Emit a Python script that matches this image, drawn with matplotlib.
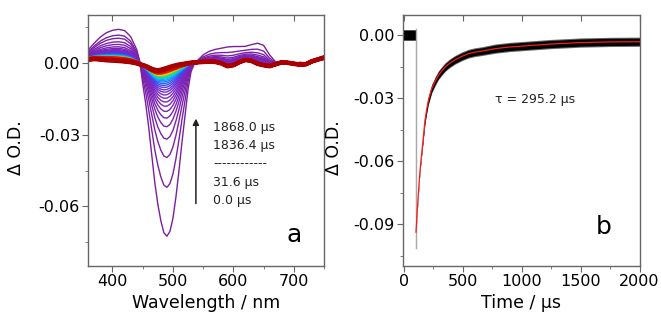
import numpy as np
import matplotlib
matplotlib.use("Agg")
import matplotlib.pyplot as plt
from matplotlib.colors import LinearSegmentedColormap
from matplotlib.ticker import MultipleLocator

plt.rcParams['font.family'] = ['DejaVu Sans']
plt.rcParams['axes.unicode_minus'] = False

# --- panel a: transient spectra ---
wl = [360, 370, 380, 390, 400, 410, 420, 430, 440, 445, 450, 455, 460, 465, 470,
      475, 480, 485, 490, 495, 500, 505, 510, 515, 520, 525, 530, 535, 540, 550,
      560, 570, 580, 590, 600, 610, 620, 630, 640, 650, 660, 670, 680, 690, 700,
      710, 720, 730, 740, 750]
# spectrum at 0.0 us
early = [0.0056, 0.0085, 0.0110, 0.0128, 0.0138, 0.0142, 0.0137, 0.0112, 0.0058, 0.0010,
         -0.0085, -0.0170, -0.0270, -0.0385, -0.0500, -0.0590, -0.0660, -0.0710, -0.0725, -0.0705,
         -0.0650, -0.0560, -0.0450, -0.0330, -0.0220, -0.0110, -0.0035, -0.0005, 0.0010, 0.0035,
         0.0050, 0.0058, 0.0063, 0.0068, 0.0070, 0.0070, 0.0071, 0.0078, 0.0084, 0.0075,
         0.0035, 0.0005, 0.0000, -0.0003, 0.0000, 0.0004, 0.0002, 0.0005, 0.0010, 0.0015]
# spectrum at 1868.0 us
late = [0.0015, 0.0018, 0.0016, 0.0013, 0.0012, 0.0010, 0.0008, 0.0005, 0.0000, -0.0004,
        -0.0008, -0.0012, -0.0018, -0.0024, -0.0028, -0.0030, -0.0028, -0.0024, -0.0020, -0.0016,
        -0.0012, -0.0009, -0.0006, -0.0004, -0.0002, 0.0000, 0.0002, 0.0003, 0.0004, 0.0006,
        0.0007, 0.0006, 0.0000, -0.0012, -0.0008, 0.0005, 0.0014, 0.0010, -0.0002, -0.0008,
        -0.0012, -0.0004, 0.0004, 0.0002, -0.0002, -0.0006, -0.0004, 0.0008, 0.0016, 0.0024]
# value of each spectrum at 490 nm (bleach) and 410 nm (absorption)
dip490 = [-0.0725, -0.0520, -0.0395, -0.0318, -0.0266, -0.0230, -0.0202, -0.0180, -0.0162, -0.0146,
          -0.0132, -0.0120, -0.0110, -0.0100, -0.0091, -0.0083, -0.0076, -0.0070, -0.0065, -0.0060,
          -0.0056, -0.0052, -0.0049, -0.0046, -0.0043, -0.0041, -0.0039, -0.0037, -0.0035, -0.0033,
          -0.0031, -0.0030, -0.0029, -0.0028, -0.0027, -0.0026, -0.0025, -0.0024, -0.0024, -0.0023,
          -0.0023, -0.0022, -0.0022, -0.0021, -0.0021, -0.0021, -0.0020, -0.0020]
peak410 = [0.0142, 0.0118, 0.0105, 0.0090, 0.0079, 0.0069, 0.0062, 0.0057, 0.0053, 0.0050,
           0.0047, 0.0045, 0.0043, 0.0041, 0.0039, 0.0037, 0.0035, 0.0033, 0.0031, 0.0030,
           0.0029, 0.0028, 0.0027, 0.0026, 0.0025, 0.0024, 0.0023, 0.0022, 0.0021, 0.0020,
           0.0019, 0.0018, 0.0017, 0.0016, 0.0015, 0.0014, 0.0013, 0.0013, 0.0012, 0.0012,
           0.0011, 0.0011, 0.0011, 0.0010, 0.0010, 0.0010, 0.0010, 0.0010]

# --- panel b: kinetics at 490 nm ---
fit_t = [102, 110, 122, 135, 150, 165, 178, 192, 207, 235, 265, 292, 320, 349, 390,
         434, 490, 547, 600, 660, 774, 900, 1000, 1250, 1500, 1750, 2000]
fit_y = [-0.0937, -0.0860, -0.0754, -0.0650, -0.0563, -0.0480, -0.0405, -0.0355, -0.0310, -0.0254,
         -0.0218, -0.0190, -0.0170, -0.0151, -0.0132, -0.0116, -0.0100, -0.0087, -0.0080, -0.0075,
         -0.0063, -0.0055, -0.0051, -0.0041, -0.0034, -0.0031, -0.0030]
# noise half-width of the measured trace around the fit
noise_hw = [0.0003, 0.0004, 0.0005, 0.0006, 0.0008, 0.0010, 0.0012, 0.0014, 0.0015, 0.0016,
            0.0016, 0.0016, 0.0016, 0.0016, 0.0016, 0.0016, 0.0016, 0.0016, 0.0016, 0.0016,
            0.0017, 0.0017, 0.0017, 0.0017, 0.0017, 0.0017, 0.0017]
pre_t = [-6, 100]
pre_y = [0.0, 0.0]

fig = plt.figure(figsize=(6.61, 3.2), dpi=100)
ax1 = fig.add_axes([0.1336, 0.170, 0.3566, 0.783])
ax2 = fig.add_axes([0.6092, 0.170, 0.3583, 0.783])

wl_a = np.array(wl)
early_a = np.array(early)
late_a = np.array(late)
i490 = wl.index(490)
i410 = wl.index(410)
n = len(dip490)
cmap = LinearSegmentedColormap.from_list('rb', [
    (0.00, '#7b1fa2'), (0.22, '#7b28c8'), (0.30, '#3c46f0'), (0.36, '#1e90ff'),
    (0.41, '#00d2e6'), (0.46, '#3cdc3c'), (0.51, '#f0e600'), (0.56, '#ff8c00'),
    (0.62, '#f01400'), (1.00, '#a80000')])
for i in range(n):
    wb = (dip490[i] - late[i490]) / (early[i490] - late[i490])
    wa = (peak410[i] - late[i410]) / (early[i410] - late[i410])
    w = np.where(wl_a < 445, wa, wb)
    spec = late_a + w * (early_a - late_a)
    lw = 1.0 if i < 28 else (2.6 if i < n - 1 else 3.4)
    ax1.plot(wl_a, spec, color=cmap(i / (n - 1)), lw=lw)

ax1.annotate('', xy=(538, -0.0232), xytext=(538, -0.0588),
             arrowprops=dict(arrowstyle='-|>', color='#222222', lw=1.1,
                             mutation_scale=9, shrinkA=0, shrinkB=0))
for txt, yy in [('1868.0 μs', -0.0268), ('1836.4 μs', -0.0346), ('-' * 12, -0.0419),
                ('31.6 μs', -0.0500), ('0.0 μs', -0.0576)]:
    ax1.text(567, yy, txt, fontsize=9, va='center', ha='left', color='#222222')
ax1.text(700, -0.0719, 'a', fontsize=18, ha='center', va='center')

ax1.set_xlim(360, 750)
ax1.set_ylim(-0.0848, 0.0202)
ax1.xaxis.set_major_locator(MultipleLocator(100))
ax1.xaxis.set_minor_locator(MultipleLocator(50))
ax1.set_yticks([-0.06, -0.03, 0.0])
ax1.set_yticklabels(['-0.06', '-0.03', '0.00'])
ax1.yaxis.set_minor_locator(MultipleLocator(0.015))
ax1.set_xlabel('Wavelength / nm', fontsize=12.5, labelpad=4)
ax1.set_ylabel('Δ O.D.', fontsize=12.5)
ax1.yaxis.set_label_coords(-0.27, 0.47)

# panel b
ft = np.array(fit_t)
fy = np.array(fit_y)
hw = np.array(noise_hw)
ax2.fill_between(pre_t, np.array(pre_y) - 0.0028, np.array(pre_y) + 0.0028,
                 color='#555555', lw=0)
ax2.fill_between(pre_t, np.array(pre_y) - 0.0020, np.array(pre_y) + 0.0020,
                 color='black', lw=0)
ax2.plot([101, 101], [0.0030, -0.101], color='#a8a8a8', lw=1.0)
edge = 0.0005 * (hw > 0.001)
ax2.fill_between(ft, fy - hw - edge, fy + hw + edge, color='#666666', lw=0)
ax2.fill_between(ft, fy - hw, fy + hw, color='black', lw=0)
ax2.plot(ft, fy, color='#ff1a1a', lw=0.9)
ax2.text(1110, -0.0303, 'τ = 295.2 μs', fontsize=9, ha='center', va='center', color='#222222')
ax2.text(1694, -0.0911, 'b', fontsize=18, ha='center', va='center')

ax2.set_xlim(-11, 2000)
ax2.set_ylim(-0.1096, 0.0097)
ax2.xaxis.set_major_locator(MultipleLocator(500))
ax2.xaxis.set_minor_locator(MultipleLocator(250))
ax2.set_yticks([-0.09, -0.06, -0.03, 0.0])
ax2.set_yticklabels(['-0.09', '-0.06', '-0.03', '0.00'])
ax2.yaxis.set_minor_locator(MultipleLocator(0.015))
ax2.set_xlabel('Time / μs', fontsize=12.5, labelpad=4)
ax2.set_ylabel('Δ O.D.', fontsize=12.5)
ax2.yaxis.set_label_coords(-0.25, 0.47)

for ax in (ax1, ax2):
    for s in ax.spines.values():
        s.set_color('#666666')
        s.set_linewidth(1.0)
    ax.tick_params(which='both', direction='out', color='#666666', labelsize=11.5,
                   right=False, top=False)
    ax.tick_params(which='major', length=4, pad=2)
    ax.tick_params(which='minor', length=2.5)
    top = ax.secondary_xaxis('top')
    top.set_xticks(ax.get_xticks())
    top.tick_params(direction='in', length=4, color='#666666', labeltop=False)
    top.spines['top'].set_visible(False)

fig.savefig('out.png', dpi=100)
